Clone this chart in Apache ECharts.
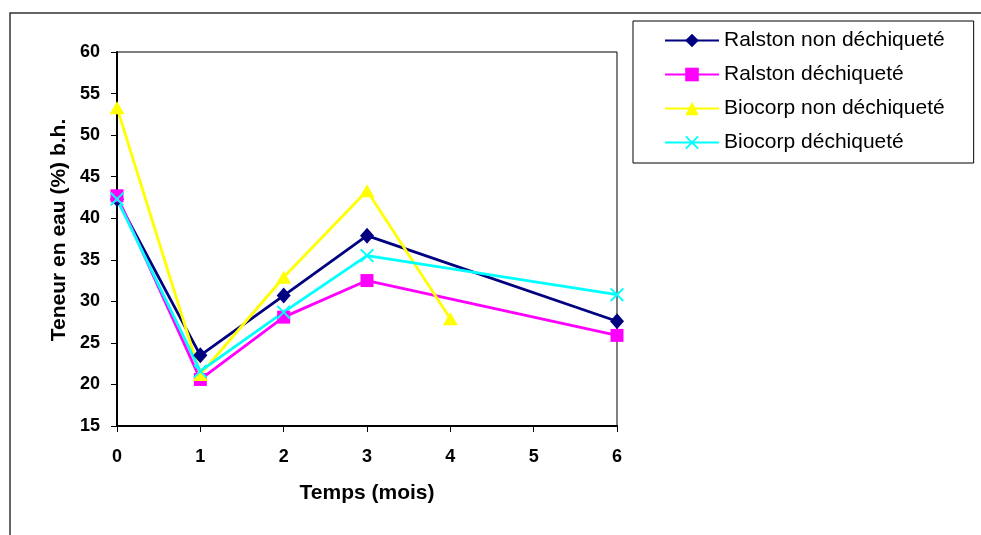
<!DOCTYPE html>
<html>
<head>
<meta charset="utf-8">
<script src="https://cdn.jsdelivr.net/npm/echarts@6/dist/echarts.min.js"></script>
<style>
html,body{margin:0;padding:0;background:#fff;}
#c{width:981px;height:535px;}
</style>
</head>
<body>
<div id="c"></div>
<script>
// ---- data ----
const seriesNames = ['Ralston non déchiqueté', 'Ralston déchiqueté', 'Biocorp non déchiqueté', 'Biocorp déchiqueté'];
const monthsRalston = [0, 1, 2, 3, 6];
const monthsBiocorpNon = [0, 1, 2, 3, 4];
const monthsBiocorpDech = [0, 1, 2, 3, 6];
const ralstonNon = [42.3, 23.5, 30.7, 37.9, 27.6];
const ralstonDech = [42.7, 20.6, 28.1, 32.5, 25.9];
const biocorpNon = [53.3, 21.2, 32.9, 43.3, 27.9];
const biocorpDech = [42.3, 21.6, 28.7, 35.5, 30.8];
const xTicks = [0, 1, 2, 3, 4, 5, 6];
const yTicks = [15, 20, 25, 30, 35, 40, 45, 50, 55, 60];
const xTitle = 'Temps (mois)';
const yTitle = 'Teneur en eau (%) b.h.';

const FONT = '"Liberation Sans", Arial, sans-serif';
const pair = (xs, ys) => xs.map((x, i) => [x, ys[i]]);
const crossPath = 'path://M0,1 L1,0 L5,4 L9,0 L10,1 L6,5 L10,9 L9,10 L5,6 L1,10 L0,9 L4,5 Z';

const chart = echarts.init(document.getElementById('c'), null, {renderer: 'canvas'});
const mk = (name, data, color, symbol, size) => ({
  name: name, type: 'line', data: data,
  symbol: symbol, symbolSize: size, showSymbol: true,
  lineStyle: {color: color, width: 2.8},
  itemStyle: {color: color, borderWidth: 0},
  emphasis: {disabled: true},
  animation: false, z: 3
});

chart.setOption({
  animation: false,
  backgroundColor: '#fff',
  textStyle: {fontFamily: FONT},
  grid: {left: 117, top: 52, right: 364, bottom: 109, show: true, borderColor: '#000', borderWidth: 1, backgroundColor: 'transparent'},
  legend: {
    orient: 'vertical', left: 633, top: 21,
    padding: [9, 29, 10, 31],
    itemWidth: 54, itemHeight: 17, itemGap: 13,
    borderColor: '#000', borderWidth: 1,
    textStyle: {fontSize: 21, fontFamily: FONT, color: '#000', lineHeight: 21},
    selectedMode: false,
    data: seriesNames
  },
  xAxis: {
    type: 'value', min: xTicks[0], max: xTicks[xTicks.length - 1], interval: 1,
    name: xTitle, nameLocation: 'middle', nameGap: 57,
    nameTextStyle: {fontSize: 21, fontWeight: 'bold', color: '#000', fontFamily: FONT},
    axisLine: {show: true, lineStyle: {color: '#000', width: 2}},
    axisTick: {show: true, inside: false, length: 6, lineStyle: {color: '#000', width: 1}},
    axisLabel: {margin: 22, fontSize: 18, fontWeight: 'bold', color: '#000', fontFamily: FONT},
    splitLine: {show: false}
  },
  yAxis: {
    type: 'value', min: yTicks[0], max: yTicks[yTicks.length - 1], interval: 5,
    axisLine: {show: true, onZero: false, lineStyle: {color: '#000', width: 2}},
    axisTick: {show: true, inside: false, length: 6, lineStyle: {color: '#000', width: 1}},
    axisLabel: {margin: 17, fontSize: 18, fontWeight: 'bold', color: '#000', fontFamily: FONT},
    splitLine: {show: false}
  },
  graphic: [
    {type: 'polyline', shape: {points: [[10, 540], [10, 13], [990, 13]]}, style: {stroke: '#333', lineWidth: 1.5, fill: null}, silent: true, z: 0},
    {type: 'text', x: 59, y: 230, rotation: Math.PI / 2, silent: true,
     style: {text: yTitle, font: 'bold 21px ' + FONT, fill: '#000', textAlign: 'center', textVerticalAlign: 'middle'}}
  ],
  series: [
    mk(seriesNames[0], pair(monthsRalston, ralstonNon), '#000080', 'diamond', [14, 16]),
    mk(seriesNames[1], pair(monthsRalston, ralstonDech), '#FF00FF', 'rect', 13),
    mk(seriesNames[2], pair(monthsBiocorpNon, biocorpNon), '#FFFF00', 'triangle', [15, 13]),
    mk(seriesNames[3], pair(monthsBiocorpDech, biocorpDech), '#00FFFF', crossPath, 14)
  ]
});
</script>
</body>
</html>
